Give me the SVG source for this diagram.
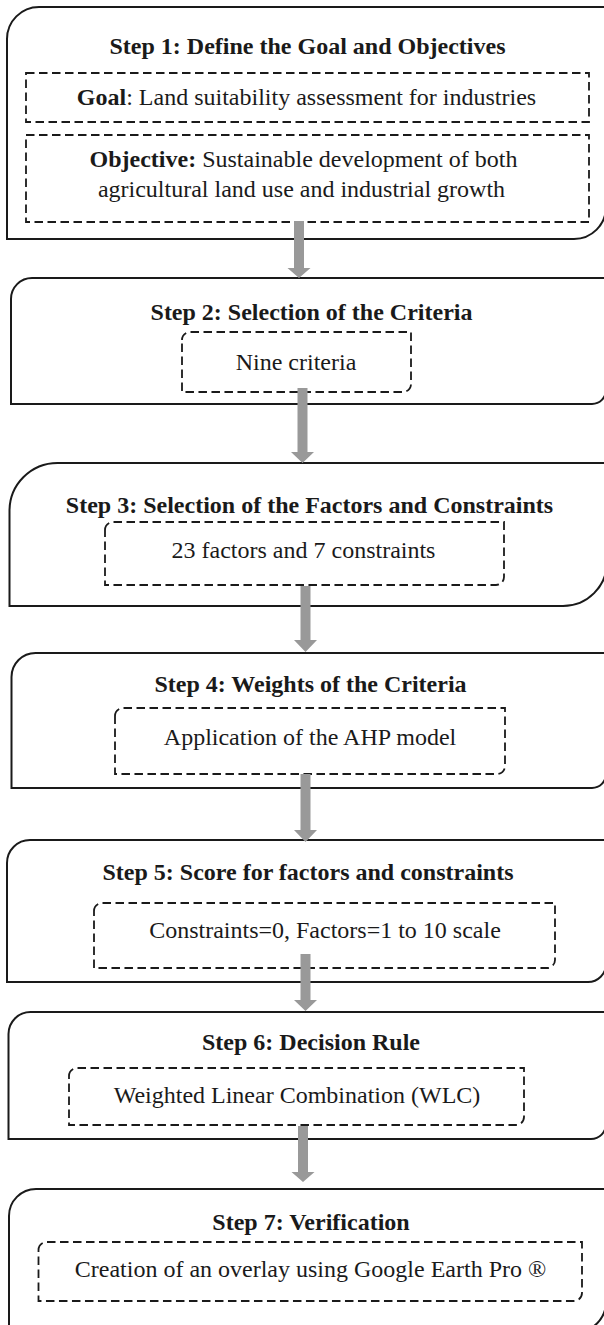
<svg xmlns="http://www.w3.org/2000/svg" width="604" height="1325" viewBox="0 0 604 1325">
<style>
.outer{fill:#fff;stroke:#1a1a1a;stroke-width:2}
.dash{fill:none;stroke:#1a1a1a;stroke-width:1.8;stroke-dasharray:8.5 4.5}
.t{font-family:"Liberation Serif","Times New Roman",serif;font-size:24px;fill:#1a1a1a;text-anchor:middle}
.b{font-weight:bold}
.arrow{fill:#999;stroke:none}
</style>
<rect width="604" height="1325" fill="#fff"/>
<g id="step1">
<path class="outer" d="M7,39 A32,32 0 0 1 39,7 H606 V207 A32,32 0 0 1 574,239 H7 Z"/>
<text class="t b" x="307.5" y="54">Step 1: Define the Goal and Objectives</text>
<rect class="dash" x="26" y="73" width="563" height="49"/>
<text class="t" x="306.5" y="105"><tspan class="b">Goal</tspan>: Land suitability assessment for industries</text>
<rect class="dash" x="26" y="135" width="563" height="87"/>
<text class="t" x="303.5" y="167"><tspan class="b">Objective:</tspan> Sustainable development of both</text>
<text class="t" x="301.5" y="197">agricultural land use and industrial growth</text>
</g>
<g id="step2">
<path class="outer" d="M11,299 A21,21 0 0 1 32,278 H606 V390 A14,14 0 0 1 592,404 H11 Z"/>
<text class="t b" x="311.5" y="320">Step 2: Selection of the Criteria</text>
<path class="dash" d="M182,340 A8,8 0 0 1 190,332 H411 V384 A8,8 0 0 1 403,392 H182 Z"/>
<text class="t" x="296" y="370">Nine criteria</text>
</g>
<g id="step3">
<path class="outer" d="M9.5,511 A48,48 0 0 1 57.5,463 H607 V562 A44,44 0 0 1 563,606 H9.5 Z"/>
<text class="t b" x="309.5" y="513">Step 3: Selection of the Factors and Constraints</text>
<path class="dash" d="M105,530 A8,8 0 0 1 113,522 H504 V577 A8,8 0 0 1 496,585 H105 Z"/>
<text class="t" x="303.5" y="558">23 factors and 7 constraints</text>
</g>
<g id="step4">
<path class="outer" d="M11.5,677 A24,24 0 0 1 35.5,653 H606 V774 A14,14 0 0 1 592,788 H11.5 Z"/>
<text class="t b" x="310.5" y="692">Step 4: Weights of the Criteria</text>
<path class="dash" d="M115,716 A8,8 0 0 1 123,708 H505 V766 A8,8 0 0 1 497,774 H115 Z"/>
<text class="t" x="310" y="745">Application of the AHP model</text>
</g>
<g id="step5">
<path class="outer" d="M7,863 A23,23 0 0 1 30,840 H606 V964 A18,18 0 0 1 588,982 H7 Z"/>
<text class="t b" x="308" y="880">Step 5: Score for factors and constraints</text>
<path class="dash" d="M94,911 A8,8 0 0 1 102,903 H555 V960 A8,8 0 0 1 547,968 H94 Z"/>
<text class="t" x="325" y="938">Constraints=0, Factors=1 to 10 scale</text>
</g>
<g id="step6">
<path class="outer" d="M8.5,1034 A22,22 0 0 1 30.5,1012 H606 V1124 A15,15 0 0 1 591,1139 H8.5 Z"/>
<text class="t b" x="311" y="1050">Step 6: Decision Rule</text>
<path class="dash" d="M69,1076 A8,8 0 0 1 77,1068 H524 V1117 A8,8 0 0 1 516,1125 H69 Z"/>
<text class="t" x="297" y="1103">Weighted Linear Combination (WLC)</text>
</g>
<g id="step7">
<path class="outer" d="M9,1216 A27,27 0 0 1 36,1189 H606 V1302 A30,30 0 0 1 576,1332 H9 Z"/>
<text class="t b" x="311" y="1230">Step 7: Verification</text>
<path class="dash" d="M38.5,1250 A8,8 0 0 1 46.5,1242 H582 V1293 A8,8 0 0 1 574,1301 H38.5 Z"/>
<text class="t" x="310.5" y="1277">Creation of an overlay using Google Earth Pro ®</text>
</g>
<g id="connectors">
<path class="arrow" d="M294,221 H304 V268 H310.5 L299,278 L287.5,268 H294 Z"/>
<path class="arrow" d="M297.5,388 H307.5 V452 H314 L302.5,463 L291,452 H297.5 Z"/>
<path class="arrow" d="M300.5,586 H310.5 V640 H317 L305.5,652 L294,640 H300.5 Z"/>
<path class="arrow" d="M300.5,774 H310.5 V830 H317 L305.5,842 L294,830 H300.5 Z"/>
<path class="arrow" d="M300.5,954 H310.5 V1000 H317 L305.5,1011 L294,1000 H300.5 Z"/>
<path class="arrow" d="M298,1126 H308 V1172 H314.5 L303,1182 L291.5,1172 H298 Z"/>
</g>
</svg>
